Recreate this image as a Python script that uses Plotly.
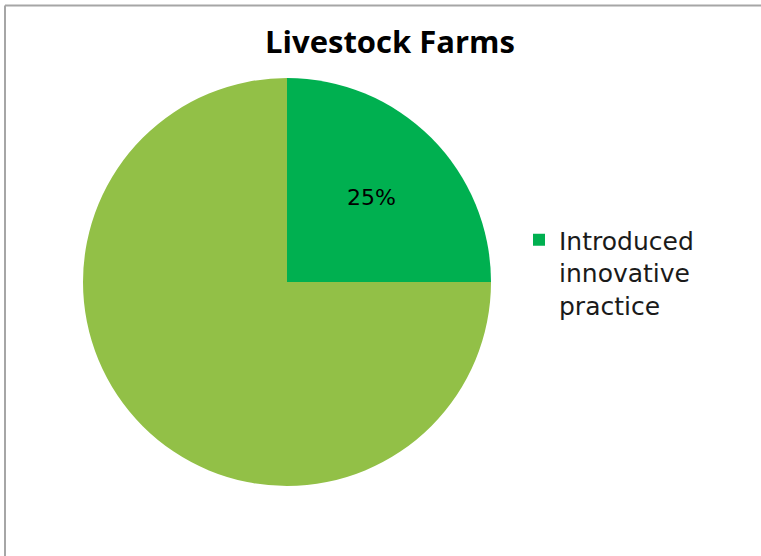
import plotly.graph_objects as go

labels = ["Introduced innovative practice", "Other"]
values = [25, 75]
slice_text = ["25%", ""]
colors = ["#00B050", "#92C047"]
legend_label = "Introduced<br>innovative<br>practice"

W, H = 761, 556

fig = go.Figure()
fig.add_trace(go.Pie(
    labels=labels,
    values=values,
    text=slice_text,
    textinfo="text",
    textposition="inside",
    insidetextorientation="horizontal",
    textfont=dict(family="DejaVu Sans, sans-serif", size=22, color="black"),
    marker=dict(colors=colors, line=dict(width=0)),
    sort=False,
    direction="clockwise",
    rotation=0,
    showlegend=False,
    hoverinfo="label+percent",
    domain=dict(x=[83 / W, 491 / W], y=[1 - 486 / H, 1 - 78 / H]),
))
# legend entry for the first slice only
fig.add_trace(go.Scatter(
    x=[None], y=[None], mode="markers",
    marker=dict(symbol="square", size=16, color=colors[0]),
    name=legend_label, showlegend=True,
))

border = dict(color="#A6A6A6", width=2)
fig.update_layout(
    width=W, height=H,
    margin=dict(l=0, r=0, t=0, b=0),
    paper_bgcolor="white", plot_bgcolor="white",
    xaxis=dict(visible=False), yaxis=dict(visible=False),
    title=dict(text="<b>Livestock Farms</b>", x=390 / W, xanchor="center",
               y=1 - 42 / H, yanchor="middle",
               font=dict(family="Open Sans, sans-serif", size=31, color="black")),
    legend=dict(x=519 / W, y=1 - 217 / H, xanchor="left", yanchor="top",
                valign="top",
                font=dict(family="DejaVu Sans, sans-serif", size=25, color="#1a1a1a"),
                itemsizing="constant", bgcolor="rgba(0,0,0,0)", tracegroupgap=0),
    shapes=[
        dict(type="line", xref="paper", yref="paper",
             x0=5 / W, x1=1.0, y0=1 - 5.5 / H, y1=1 - 5.5 / H, line=border),
        dict(type="line", xref="paper", yref="paper",
             x0=5 / W, x1=5 / W, y0=0, y1=1 - 5.5 / H, line=border),
    ],
)

fig.write_html("out.html", config={"displayModeBar": False},
               post_script="document.body.style.margin='0px';"
                           "document.body.style.overflow='hidden';"
                           "document.documentElement.style.overflow='hidden';")
